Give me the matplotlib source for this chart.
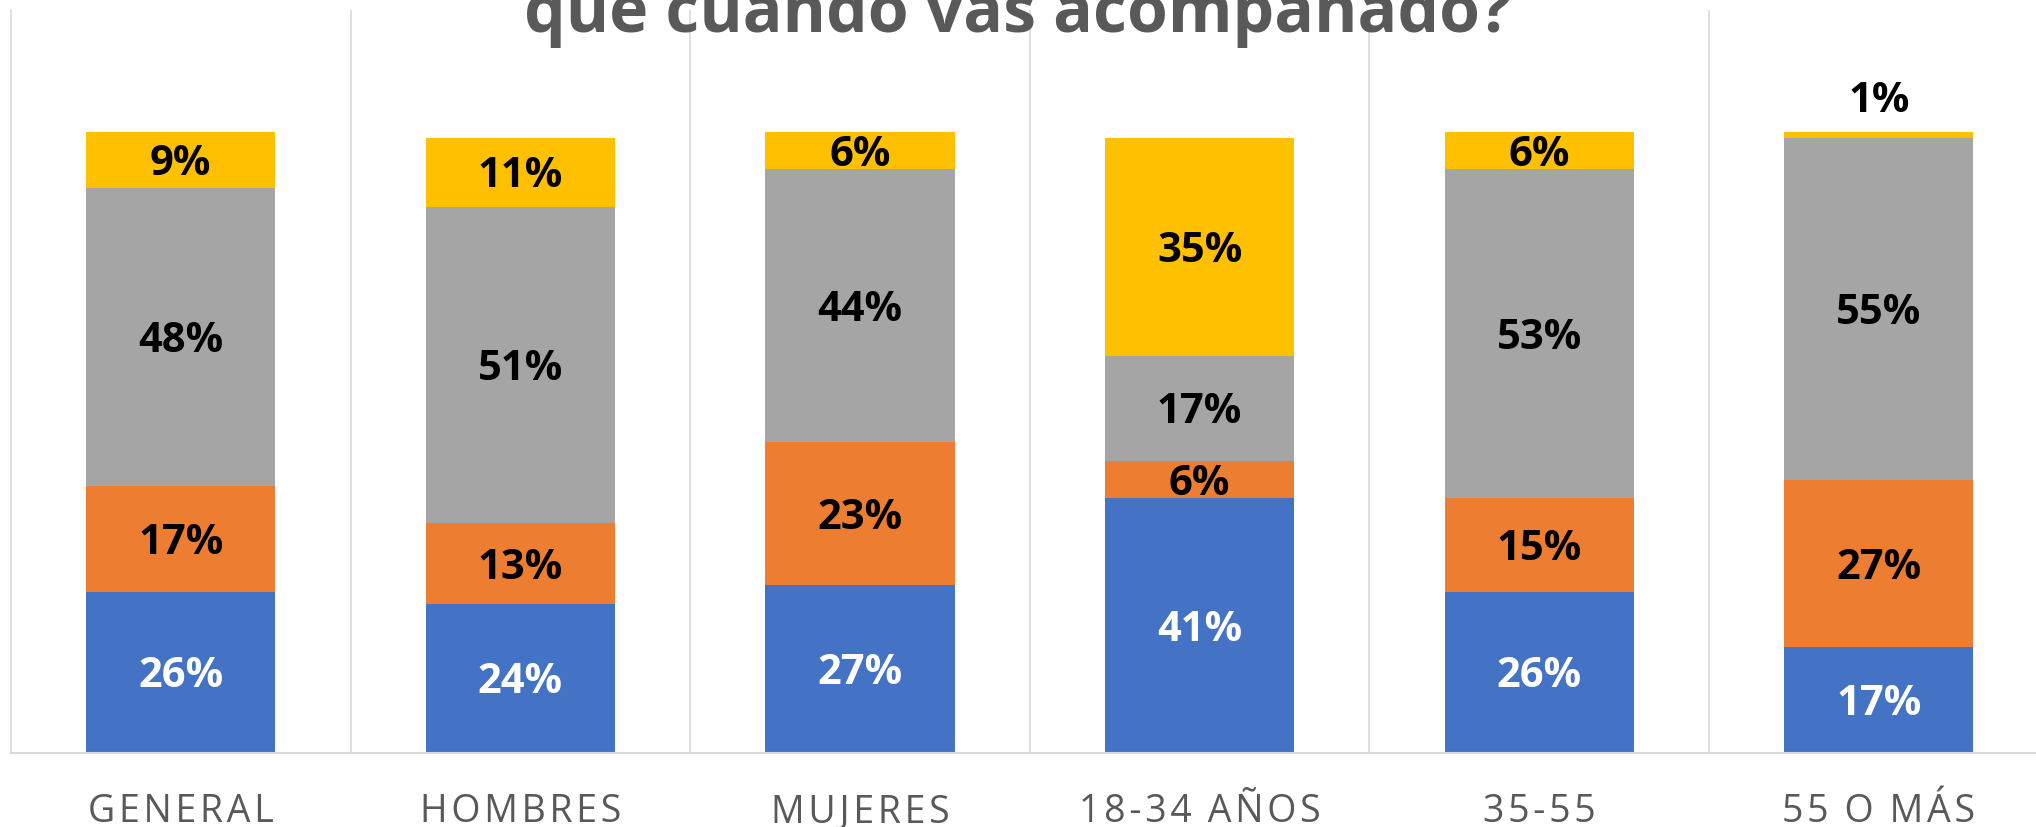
import numpy as np
import matplotlib
matplotlib.use("Agg")
import matplotlib.pyplot as plt
import matplotlib.transforms as mtransforms
from matplotlib.font_manager import FontProperties

# Data (bottom -> top segments), percentages as labelled
CATEGORIES = ["GENERAL", "HOMBRES", "MUJERES", "18-34 AÑOS", "35-55", "55 O MÁS"]
BLUE_VALS   = [26, 24, 27, 41, 26, 17]
ORANGE_VALS = [17, 13, 23, 6, 15, 27]
GRAY_VALS   = [48, 51, 44, 17, 53, 55]
YELLOW_VALS = [9, 11, 6, 35, 6, 1]
TITLE = "que cuando vas acompañado?"

SERIES = [BLUE_VALS, ORANGE_VALS, GRAY_VALS, YELLOW_VALS]
COLORS = ["#4472C4", "#ED7D31", "#A5A5A5", "#FFC000"]
LABEL_COLORS = ["white", "black", "black", "black"]

W, H = 2036, 827
fig = plt.figure(figsize=(W / 100, H / 100), dpi=100)
ax = fig.add_axes([11 / W, 74 / H, 1 - 11 / W, 743 / H])

x = np.arange(len(CATEGORIES))
BAR_W = 0.557
bottom = np.zeros(len(CATEGORIES))
lab_font = FontProperties(family=["Open Sans", "DejaVu Sans"], weight="bold", size=30)
# baseline shifted down by half the digit height so digits sit centred
lab_trans = mtransforms.offset_copy(ax.transData, fig=fig, x=0, y=-10.8, units="points")

for vals, color, lc in zip(SERIES, COLORS, LABEL_COLORS):
    vals = np.array(vals, dtype=float)
    ax.bar(x, vals, bottom=bottom, width=BAR_W, color=color, edgecolor="none", zorder=2)
    for xi, b, v in zip(x, bottom, vals):
        if v < 3:
            y = b + v + 5.6
        else:
            y = b + v / 2
        ax.text(xi, y, f"{int(v)}%", ha="center", va="baseline", transform=lab_trans,
                color=lc, fontproperties=lab_font, zorder=3)
    bottom += vals

for sep in np.arange(0.5, len(CATEGORIES), 1.0):
    ax.axvline(sep, color="#D9D9D9", lw=1.2, zorder=1)

ax.set_xlim(-0.5, -0.5 + (W - 11) / 339.6)
ax.set_ylim(0, 743 / 6.21)
ax.set_yticks([])
for s in ["top", "right"]:
    ax.spines[s].set_visible(False)
ax.spines["left"].set_color("#D9D9D9")
ax.spines["left"].set_linewidth(1.2)
ax.spines["bottom"].set_color("#D9D9D9")
ax.spines["bottom"].set_linewidth(1.5)

spaced = ["\u200a".join(list(c)).replace("\u200a \u200a", "\u2009 ") for c in CATEGORIES]
ax.set_xticks(x)
ax.set_xticklabels(spaced, va="baseline", color="#595959",
                   fontproperties=FontProperties(family=["Open Sans", "DejaVu Sans"], size=27))
ax.tick_params(axis="x", length=0, pad=49.7)

# title is partly cut off by the top edge, as in the source image
fig.text(0.5, 1 - 32 / H, TITLE, ha="center", va="baseline", color="#595959",
         fontproperties=FontProperties(family=["Open Sans", "DejaVu Sans"], weight="bold", size=47.5))

fig.savefig("out.png", dpi=100)
